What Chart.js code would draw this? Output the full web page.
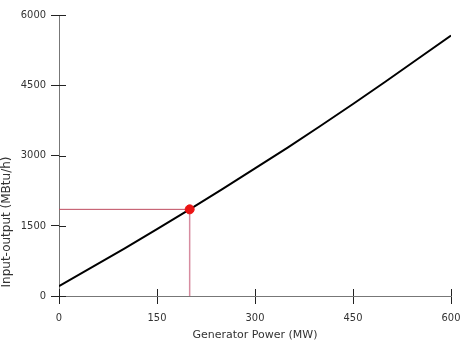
<!DOCTYPE html>
<html>
<head>
<meta charset="utf-8">
<script src="https://cdn.jsdelivr.net/npm/chart.js@4/dist/chart.umd.min.js"></script>
<style>
html,body{margin:0;padding:0;background:#fff;}
#wrap{width:463px;height:346px;}
</style>
</head>
<body>
<div id="wrap"><canvas id="c" width="463" height="346"></canvas></div>
<script>
const powerMW = [0, 50, 100, 150, 200, 250, 300, 350, 400, 450, 500, 550, 600];
const inputOutput = [210, 610, 1010, 1430, 1850, 2280, 2725, 3170, 3630, 4100, 4580, 5070, 5560];
const opPower = 200;
const opInput = 1850;
const xTicks = [0, 150, 300, 450, 600];
const yTicks = [0, 1500, 3000, 4500, 6000];
const xTitle = 'Generator Power (MW)';
const yTitle = 'Input-output (MBtu/h)';

const curve = powerMW.map((p, i) => ({x: p, y: inputOutput[i]}));
const guideH = [{x: 0, y: opInput}, {x: opPower, y: opInput}];
const guideV = [{x: opPower, y: opInput}, {x: opPower, y: 0}];

const extras = {
  id: 'extras',
  afterDraw(chart) {
    const ctx = chart.ctx;
    const xs = chart.scales.x, ys = chart.scales.y;
    ctx.save();
    ctx.strokeStyle = '#222';
    ctx.lineWidth = 1;
    ctx.beginPath();
    xTicks.forEach(v => {
      const px = Math.round(xs.getPixelForValue(v)) + 0.5;
      ctx.moveTo(px, ys.bottom);
      ctx.lineTo(px, ys.bottom - 7);
    });
    yTicks.forEach(v => {
      const py = Math.round(ys.getPixelForValue(v)) + 0.5;
      ctx.moveTo(xs.left, py);
      ctx.lineTo(xs.left + 7, py);
    });
    ctx.stroke();
    // y axis title
    ctx.fillStyle = '#333';
    ctx.font = '12px "DejaVu Sans"';
    ctx.textAlign = 'center';
    ctx.textBaseline = 'middle';
    ctx.translate(7, 222);
    ctx.rotate(-Math.PI / 2);
    ctx.fillText(yTitle, 0, 0);
    ctx.restore();
  }
};

const tickFont = {family: '"DejaVu Sans Condensed", "DejaVu Sans"', size: 11};

new Chart(document.getElementById('c'), {
  type: 'scatter',
  data: {
    datasets: [
      {
        data: guideH,
        showLine: true,
        borderColor: 'rgb(190,75,95)',
        borderWidth: 1,
        pointRadius: 0,
        order: 4
      },
      {
        data: guideV,
        showLine: true,
        borderColor: 'rgb(215,140,160)',
        borderWidth: 1.5,
        pointRadius: 0,
        order: 3
      },
      {
        data: curve,
        showLine: true,
        borderColor: '#000',
        borderWidth: 2,
        pointRadius: 0,
        tension: 0,
        order: 2
      },
      {
        data: [{x: opPower, y: opInput}],
        pointRadius: 4.5,
        pointBackgroundColor: 'rgb(235,20,20)',
        pointBorderColor: 'rgb(235,20,20)',
        order: 1
      }
    ]
  },
  options: {
    responsive: false,
    animation: false,
    devicePixelRatio: 1,
    layout: {padding: {top: 15, right: 12, left: 0, bottom: 0}},
    plugins: {legend: {display: false}, tooltip: {enabled: false}},
    scales: {
      x: {
        type: 'linear',
        min: 0, max: 600,
        afterFit(s) { s.height = 50; s.paddingRight = 0; s.paddingLeft = 0; },
        afterBuildTicks(s) { s.ticks = xTicks.map(v => ({value: v})); },
        ticks: {font: tickFont, color: '#333', padding: 8, maxRotation: 0, callback: v => String(v)},
        grid: {drawOnChartArea: false, tickLength: 8, color: '#222'},
        border: {color: '#777', width: 1},
        title: {display: true, text: xTitle, font: {family: 'DejaVu Sans', size: 11}, color: '#333', padding: {top: 0, bottom: 4}}
      },
      y: {
        type: 'linear',
        min: 0, max: 6000,
        afterFit(s) { s.width = 59; s.paddingTop = 0; s.paddingBottom = 0; },
        afterBuildTicks(s) { s.ticks = yTicks.map(v => ({value: v})); },
        ticks: {font: tickFont, color: '#333', padding: 5, callback: v => String(v)},
        grid: {drawOnChartArea: false, tickLength: 8, color: '#222'},
        border: {color: '#777', width: 1}
      }
    }
  },
  plugins: [extras]
});
</script>
</body>
</html>
